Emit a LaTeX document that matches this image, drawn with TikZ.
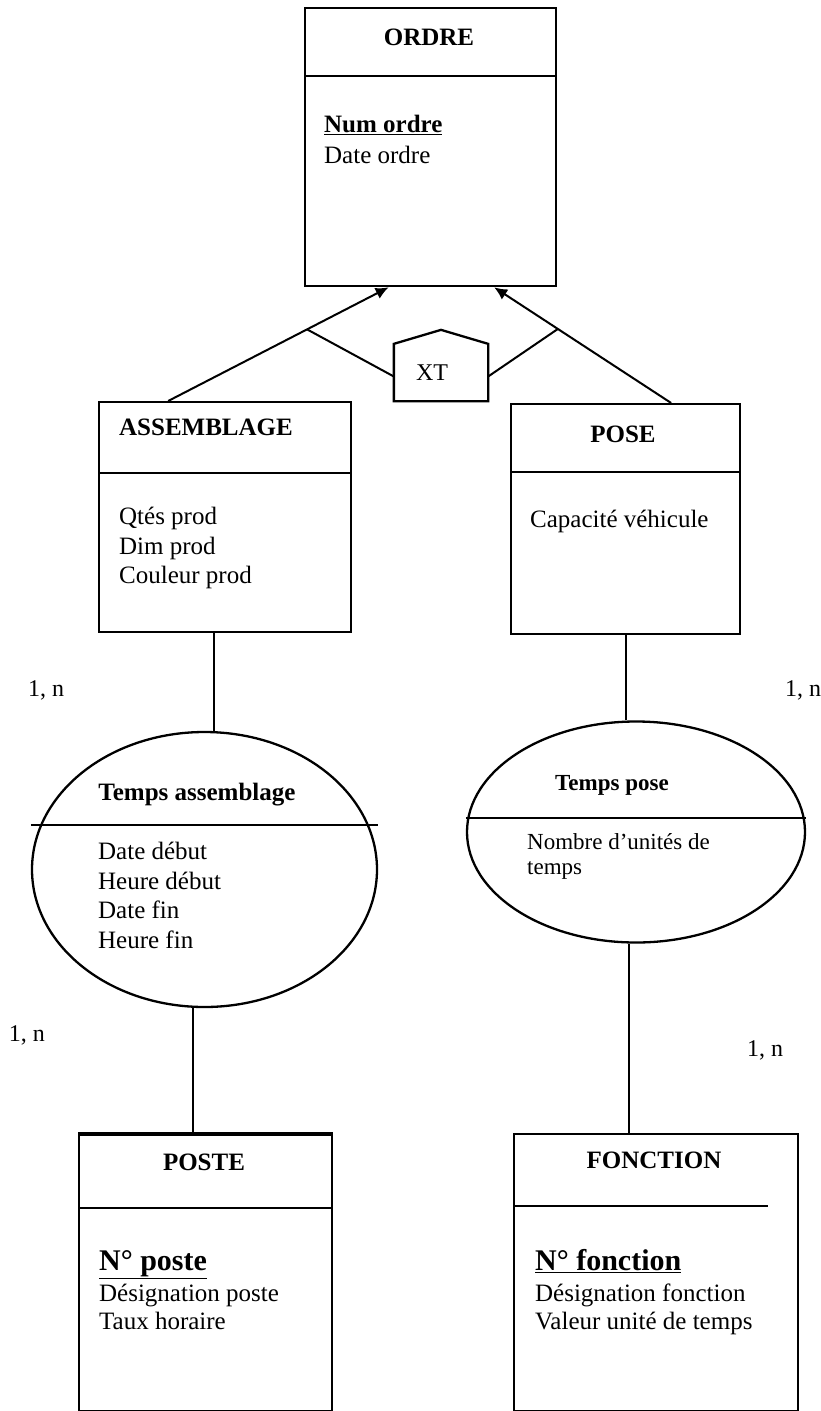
\documentclass[tikz,border=0pt]{standalone}
\usepackage{fontspec}
\setmainfont{Liberation Serif}
\usepackage{tikz}
\usetikzlibrary{arrows, positioning, shapes}
\usetikzlibrary{arrows.meta}

\begin{document}
\begin{tikzpicture}[x=1pt, y=-1pt, line width=2.3pt,
  entite/.style={draw, rectangle, anchor=north west, inner sep=0pt},
  relation/.style={draw, ellipse, inner sep=0pt},
  titre/.style={font=\fontsize{25}{30}\selectfont\bfseries, inner sep=0pt},
  champs/.style={font=\fontsize{25}{29.5}\selectfont, align=left, anchor=north west, inner sep=0pt},
  cle/.style={font=\fontsize{30}{34}\selectfont\bfseries, anchor=north west, inner sep=0pt},
  card/.style={font=\fontsize{24}{28}\selectfont, inner sep=0pt},
  lien/.style={line width=2pt},
  heritage/.style={line width=2pt, -{Latex[length=13pt,width=12pt]}}]

\useasboundingbox (0,0) rectangle (820,1411);

\node[entite, minimum width=251pt, minimum height=278pt] (ordre) at (304,7) {};
\draw ([yshift=-69pt]ordre.north west) -- ([yshift=-69pt]ordre.north east);
\node[titre] (ordreT) at (429,37) {ORDRE};
\node[champs, font=\fontsize{25}{31}\selectfont] (ordreA) at (323,114) {\textbf{\underline{Num ordre}}\\Date ordre};

\node[entite, minimum width=252pt, minimum height=230pt] (assemblage) at (98,401) {};
\draw ([yshift=-72pt]assemblage.north west) -- ([yshift=-72pt]assemblage.north east);
\node[titre, anchor=west] (assemblageT) at (118,427) {ASSEMBLAGE};
\node[champs] (assemblageA) at (118,506) {Qtés prod\\Dim prod\\Couleur prod};

\node[entite, minimum width=229pt, minimum height=230pt] (pose) at (510,403) {};
\draw ([yshift=-69pt]pose.north west) -- ([yshift=-69pt]pose.north east);
\node[titre] (poseT) at (623,434) {POSE};
\node[champs] (poseA) at (529,509) {Capacité véhicule};

\node[minimum width=92pt, minimum height=55pt, inner sep=0pt, font=\fontsize{24}{28}\selectfont] (xt) at (441,372.5) {\makebox[0pt]{XT\hspace*{18pt}}};
\draw (xt.south west) -- (xt.north west) -- ([yshift=14pt]xt.north) -- (xt.north east) -- (xt.south east) -- cycle;

\draw[heritage] ([xshift=-57pt]assemblage.north) -- coordinate[pos=0.63] (jg) ([xshift=-42pt]ordre.south);
\draw[heritage] ([xshift=45.5pt]pose.north) -- coordinate[pos=0.64] (jd) ([xshift=63.5pt]ordre.south);
\draw[lien] (jg) -- ([yshift=-4pt]xt.west);
\draw[lien] (jd) -- ([yshift=-4pt]xt.east);

\node[relation, minimum width=345pt, minimum height=275pt] (tassemblage) at (204.5,869.5) {};
\draw ([yshift=44.5pt]tassemblage.west) -- ([yshift=44.5pt]tassemblage.east);
\node[titre] (tassemblageT) at (197,795) {Temps assemblage};
\node[champs] (tassemblageA) at (97,841) {Date début\\Heure début\\Date fin\\Heure fin};

\node[relation, minimum width=338pt, minimum height=221pt] (tpose) at (636,832) {};
\draw ([yshift=14pt]tpose.west) -- ([yshift=14pt]tpose.east);
\node[titre, font=\fontsize{23}{27}\selectfont\bfseries] (tposeT) at (612,785) {Temps pose};
\node[champs, font=\fontsize{23}{25}\selectfont] (tposeA) at (526,832) {Nombre d’unités de\\temps};

\node[entite, minimum width=253pt, minimum height=276pt] (poste) at (78,1134) {};
\draw[line width=4pt] (poste.north west) -- (poste.north east);
\draw ([yshift=-74pt]poste.north west) -- ([yshift=-74pt]poste.north east);
\node[titre] (posteT) at (204,1162) {POSTE};
\node[cle] (posteK) at (98,1249) {\underline{N° poste}};
\node[champs, font=\fontsize{25}{28}\selectfont] (posteA) at (98,1283) {Désignation poste\\Taux horaire};

\node[entite, minimum width=284pt, minimum height=277pt] (fonction) at (513,1133) {};
\draw ([yshift=-73pt]fonction.north west) -- ++(255,0);
\node[titre] (fonctionT) at (654,1160) {FONCTION};
\node[cle] (fonctionK) at (534,1248) {\underline{N° fonction}};
\node[champs, font=\fontsize{25}{28}\selectfont] (fonctionA) at (534,1283) {Désignation fonction\\Valeur unité de temps};

\coordinate (c1) at ([xshift=-11pt]assemblage.south);
\draw[lien] (c1) -- (c1 |- tassemblage.north);
\draw[lien] (pose.south) -- (pose.south |- tpose.north);
\coordinate (c3) at ([xshift=-12.5pt]poste.north);
\draw[lien] (c3 |- tassemblage.south) -- (c3);
\coordinate (c4) at ([xshift=-27pt]fonction.north);
\draw[lien] (c4 |- tpose.south) -- (c4);

\node[card] (card1) at (46,690) {1, n};
\node[card] (card2) at (803,690) {1, n};
\node[card] (card3) at (27,1035) {1, n};
\node[card] (card4) at (765,1050) {1, n};

\end{tikzpicture}
\end{document}
